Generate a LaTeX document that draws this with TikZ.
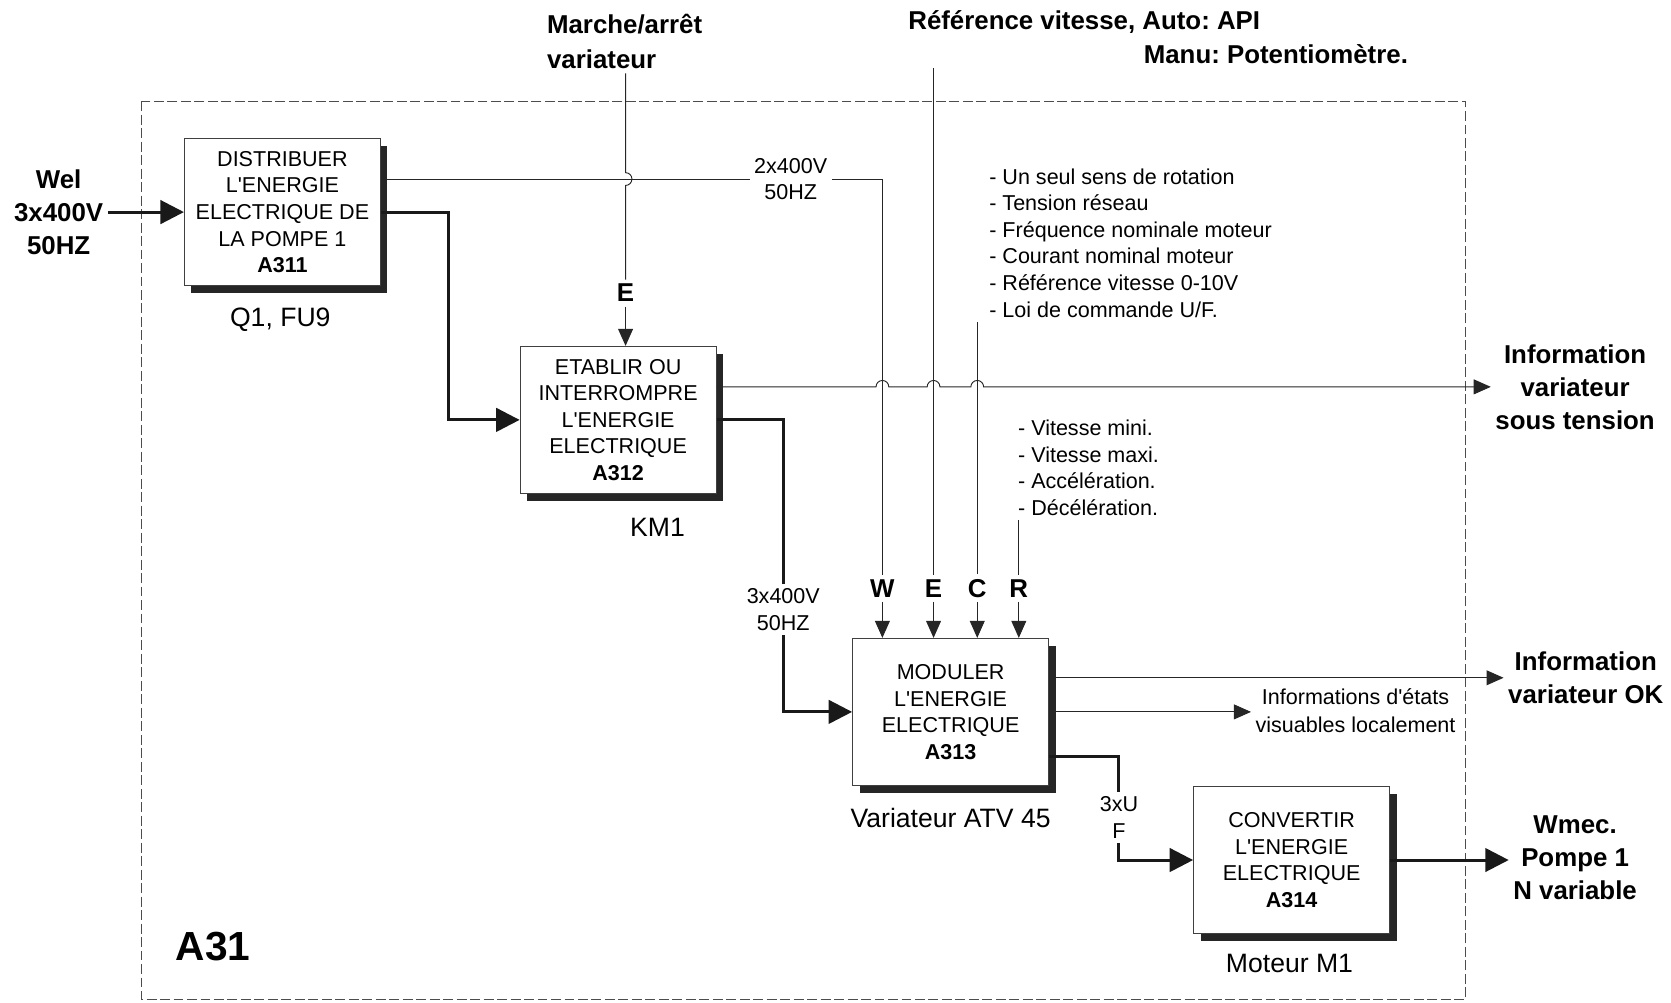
\documentclass[tikz,border=0pt]{standalone}
\usepackage{fontspec}
\setmainfont{Liberation Sans}
\usetikzlibrary{arrows.meta,shadows}

\newcommand{\boxfont}{\fontsize{11.5}{14.2}\selectfont}
\newcommand{\lblfont}{\fontsize{13.8}{17.6}\selectfont\bfseries}
\newcommand{\apos}{\textquotesingle}
\frenchspacing

\begin{document}
\begin{tikzpicture}[
            x=0.02cm, y=-0.02cm,
            fonction/.style={draw=black!75, line width=0.5pt, fill=white, minimum width=3.68cm, minimum height=2.76cm,
                inner sep=0pt, align=center, font=\boxfont,
                drop shadow={shadow xshift=0.13cm, shadow yshift=-0.14cm, fill=black!85, opacity=1}},
            lbl/.style={font=\lblfont, align=center, inner sep=0.08cm},
            txt/.style={font=\boxfont, align=center, inner sep=0.08cm},
            support/.style={font=\fontsize{14.2}{17}\selectfont, inner sep=0.08cm},
            liste/.style={font=\boxfont, align=left, anchor=west, inner sep=0.08cm},
            sig/.style={draw=black!85, line width=0.5pt},
            power/.style={draw=black!90, line width=1.6pt},
            bigtip/.style={-{Triangle[length=0.44cm, width=0.44cm]}},
            smalltip/.style={-{Triangle[length=0.32cm, width=0.28cm]}},
            cadre/.style={draw=black!70, line width=0.5pt, dash pattern=on 5.3pt off 1.9pt}
        ]
            \useasboundingbox (0,0) rectangle (1568,941);

            % Frame A31
            \draw[cadre] (133,95) rectangle (1375,938);
            \node[font=\fontsize{21.7}{26}\selectfont\bfseries] (a31) at (200,888) {A31};

            % Functions
            \node[fonction] (a311) at (265,199) {DISTRIBUER\\L\apos ENERGIE\\ELECTRIQUE DE\\LA POMPE 1\\\textbf{A311}};
            \node[fonction] (a312) at (580,394) {ETABLIR OU\\INTERROMPRE\\L\apos ENERGIE\\ELECTRIQUE\\\textbf{A312}};
            \node[fonction] (a313) at (892,668) {MODULER\\L\apos ENERGIE\\ELECTRIQUE\\\textbf{A313}};
            \node[fonction] (a314) at (1212,807) {CONVERTIR\\L\apos ENERGIE\\ELECTRIQUE\\\textbf{A314}};

            % Supports
            \node[support] (q1) at (263,300) {Q1, FU9};
            \node[support] (km1) at (617,495) {KM1};
            \node[support] (atv) at (892,768) {Variateur ATV 45};
            \node[support] (m1) at (1210,904) {Moteur M1};

            % Inputs and outputs
            \node[lbl] (wel) at (55,199) {Wel\\3x400V\\50HZ};
            \node[lbl, font=\fontsize{13.8}{18.7}\selectfont\bfseries, align=left, anchor=west] (marche) at (509,39) {Marche/arrêt\\variateur};
            \node[lbl, font=\fontsize{13.8}{18.1}\selectfont\bfseries, align=left, anchor=west] (refv) at (848,35)
                {Référence vitesse, Auto: API\\\hspace*{4.42cm}Manu: Potentiomètre.};
            \node[lbl] (infots) at (1478,363) {Information\\variateur\\sous tension};
            \node[lbl] (infook) at (1488,636) {Information\\variateur OK};
            \node[lbl] (wmec) at (1478,805) {Wmec.\\Pompe 1\\N variable};
            \node[txt, font=\fontsize{11.5}{14.8}\selectfont] (etats) at (1272,667) {Informations d\apos états\\visuables localement};

            % Settings
            \node[liste] (list1) at (924,228) {- Un seul sens de rotation\\- Tension réseau\\- Fréquence nominale moteur\\- Courant nominal moteur\\- Référence vitesse 0-10V\\- Loi de commande U/F.};
            \node[liste] (list2) at (951,439) {- Vitesse mini.\\- Vitesse maxi.\\- Accélération.\\- Décélération.};

            % Control letters
            \node[lbl] (e1) at (587,275) {E};
            \node[lbl] (w) at (828,552) {W};
            \node[lbl] (e2) at (876,552) {E};
            \node[lbl] (c) at (917,552) {C};
            \node[lbl] (r) at (956,552) {R};

            % Line labels
            \node[txt] (v2) at (742,168) {2x400V\\50HZ};
            \node[txt] (v3) at (735,572) {3x400V\\50HZ};
            \node[txt] (uf) at (1050,767) {3xU\\F};

            % Energy flow
            \draw[power, bigtip] (wel.east) -- (a311.west);
            \draw[power, bigtip] (a311.east) -- ++(63,0) |- (a312.west);
            \draw[power] (a312.east) -| (v3.north);
            \draw[power, bigtip] (v3.south) |- (a313.west);
            \draw[power] (a313.east |- 0,710) -| (uf.north);
            \draw[power, bigtip] (uf.south) |- (a314.west);
            \draw[power, bigtip] (a314.east) -- (a314.east -| wmec.west);

            % Supply W
            \draw[sig] (a311.east |- v2) -- (v2.west);
            \draw[sig] (v2.east) -| (w.north);
            \draw[sig, smalltip] (w.south) -- (w |- a313.north);

            % Controls
            \draw[sig] (e1 |- marche.south) -- (e1 |- 0,162) arc[start angle=90, delta angle=-180, radius=0.12cm] -- (e1.north);
            \draw[sig, smalltip] (e1.south) -- (e1 |- a312.north);
            \draw[sig] (e2 |- refv.south) -- (e2.north);
            \draw[sig, smalltip] (e2.south) -- (e2 |- a313.north);
            \draw[sig] (c |- list1.south) -- (c.north);
            \draw[sig, smalltip] (c.south) -- (c |- a313.north);
            \draw[sig] (r |- list2.south) -- (r.north);
            \draw[sig, smalltip] (r.south) -- (r |- a313.north);

            % Information
            \draw[sig, smalltip] (a312.east |- infots) -- (822,363) arc[start angle=180, delta angle=-180, radius=0.12cm]
                -- (870,363) arc[start angle=180, delta angle=-180, radius=0.12cm]
                -- (911,363) arc[start angle=180, delta angle=-180, radius=0.12cm] -- (infots.west);
            \draw[sig, smalltip] (a313.east |- infook) -- (infook.west);
            \draw[sig, smalltip] (a313.east) -- (a313.east -| etats.west);
        \end{tikzpicture}
\end{document}
